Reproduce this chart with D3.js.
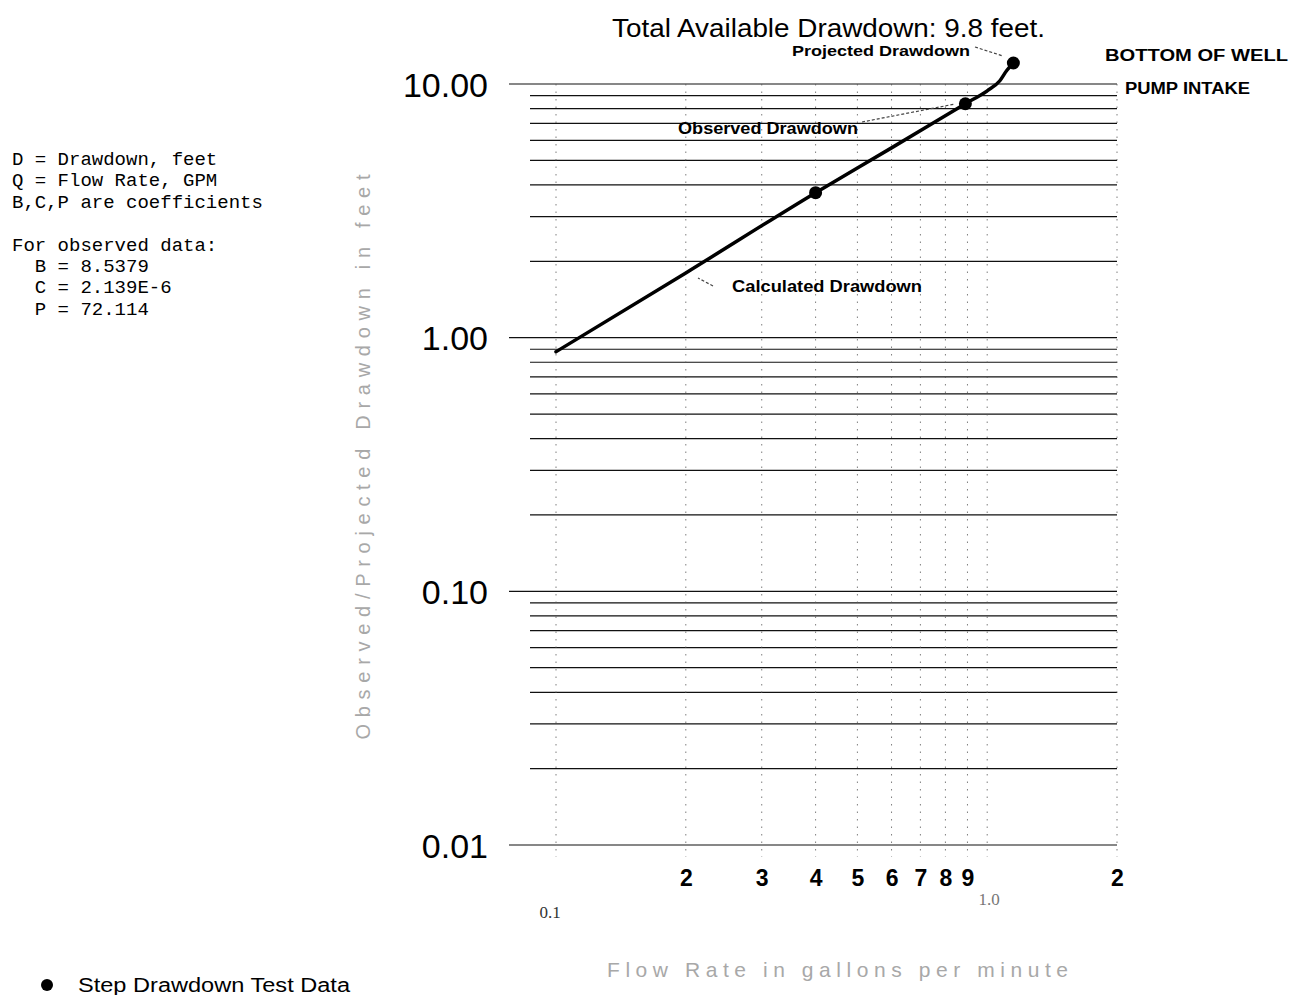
<!DOCTYPE html>
<html>
<head>
<meta charset="utf-8">
<script src="https://cdn.jsdelivr.net/npm/d3@7"></script>
<style>
  html, body { margin: 0; padding: 0; background: #fff; }
  svg { display: block; }
</style>
</head>
<body>
<svg id="chart" width="1292" height="995"></svg>
<script>
// ---- Data ----
const yTickValues = [0.01, 0.1, 1, 10];
const yTickLabels = ["0.01", "0.10", "1.00", "10.00"];
const xTickValues = [0.2, 0.3, 0.4, 0.5, 0.6, 0.7, 0.8, 0.9, 2.0];
const xTickLabels = ["2", "3", "4", "5", "6", "7", "8", "9", "2"];
const xDecadeValues = [0.1, 1.0];
const xDecadeLabels = ["0.1", "1.0"];

// Calculated drawdown curve (flow rate GPM, drawdown feet)
const calcQ = [0.1, 0.2, 0.4, 0.6, 0.89, 1.0, 1.07, 1.11, 1.15];
const calcD = [0.88, 1.8, 3.73, 5.6, 8.36, 9.4, 10.3, 11.3, 12.1];

// Step drawdown test data (observed) and projected point
const obsQ = [0.4, 0.89];
const obsD = [3.73, 8.36];
const projQ = [1.15];
const projD = [12.1];

const notes = [
  "D = Drawdown, feet",
  "Q = Flow Rate, GPM",
  "B,C,P are coefficients",
  "",
  "For observed data:",
  "  B = 8.5379",
  "  C = 2.139E-6",
  "  P = 72.114"
];

// ---- Drawing ----
const svg = d3.select("#chart");
const x = d3.scaleLog().domain([0.1, 2.0]).range([556, 1117]);
const y = d3.scaleLog().domain([0.01, 10]).range([845, 84]);

const plotLeft = 530, plotRight = 1117, majorLeft = 509;

// Horizontal grid lines (1..9 in each decade)
const hLines = [];
[0.01, 0.1, 1].forEach(d => { for (let k = 1; k <= 9; k++) hLines.push({ v: d * k, major: k === 1 }); });
hLines.push({ v: 10, major: true });

svg.append("g").selectAll("line").data(hLines).join("line")
  .attr("x1", d => d.major ? majorLeft : plotLeft)
  .attr("x2", plotRight)
  .attr("y1", d => y(d.v)).attr("y2", d => y(d.v))
  .attr("stroke", "#111").attr("stroke-width", 1.2);

// Vertical dotted grid lines
const vLines = [0.1, 0.2, 0.3, 0.4, 0.5, 0.6, 0.7, 0.8, 0.9, 1.0, 2.0];
svg.append("g").selectAll("line").data(vLines).join("line")
  .attr("x1", d => x(d)).attr("x2", d => x(d))
  .attr("y1", y(10)).attr("y2", y(0.01) + 12)
  .attr("stroke", "#555").attr("stroke-width", 1)
  .attr("stroke-dasharray", "1.5,6").attr("opacity", 0.75);

// Y axis labels
const yAxis = d3.axisLeft(y).tickValues(yTickValues)
  .tickFormat((d, i) => yTickLabels[i]).tickSize(0).tickPadding(0);
const gy = svg.append("g").attr("transform", "translate(488,0)").call(yAxis);
gy.select(".domain").remove();
gy.selectAll("text").attr("font-family", "Liberation Sans, Arial, sans-serif")
  .attr("font-size", 34).attr("fill", "#000").attr("dy", "0.36em");

// X axis labels (bold digits)
const xAxis = d3.axisBottom(x).tickValues(xTickValues)
  .tickFormat((d, i) => xTickLabels[i]).tickSize(0).tickPadding(0);
const gx = svg.append("g").attr("transform", "translate(0,870)").call(xAxis);
gx.select(".domain").remove();
gx.selectAll("text").attr("font-family", "Liberation Sans, Arial, sans-serif")
  .attr("font-size", 23).attr("font-weight", "bold").attr("fill", "#000").attr("dy", "0.71em");

// Decade labels (serif)
svg.append("g").selectAll("text").data(xDecadeValues).join("text")
  .attr("x", (d, i) => x(d) + (i === 0 ? -6 : 2))
  .attr("y", (d, i) => i === 0 ? 918 : 905)
  .attr("text-anchor", "middle")
  .attr("font-family", "Liberation Serif, Times New Roman, serif")
  .attr("font-size", 17)
  .attr("fill", (d, i) => i === 0 ? "#333" : "#777")
  .text((d, i) => xDecadeLabels[i]);

// Calculated drawdown curve
const calcPts = calcQ.map((q, i) => [q, calcD[i]]);
svg.append("path").datum(calcPts)
  .attr("d", d3.line().x(d => x(d[0])).y(d => y(d[1])).curve(d3.curveMonotoneX))
  .attr("fill", "none").attr("stroke", "#000").attr("stroke-width", 3.5)
  .attr("stroke-linecap", "round");

// Points
const pts = obsQ.map((q, i) => [q, obsD[i]]).concat(projQ.map((q, i) => [q, projD[i]]));
svg.append("g").selectAll("circle").data(pts).join("circle")
  .attr("cx", d => x(d[0])).attr("cy", d => y(d[1])).attr("r", 6.5).attr("fill", "#000");

// Leader lines (dashed)
const leaders = [
  [975, 47, 1003, 56],
  [862, 122, 955, 104],
  [713, 286, 698, 278]
];
svg.append("g").selectAll("line").data(leaders).join("line")
  .attr("x1", d => d[0]).attr("y1", d => d[1]).attr("x2", d => d[2]).attr("y2", d => d[3])
  .attr("stroke", "#444").attr("stroke-width", 1.2).attr("stroke-dasharray", "3,2");

// Annotation text
const ann = [
  { t: "Projected Drawdown", x: 792, y: 56, w: 178, fs: 15 },
  { t: "Observed Drawdown", x: 678, y: 134, w: 180, fs: 16 },
  { t: "Calculated Drawdown", x: 732, y: 292, w: 190, fs: 16 },
  { t: "BOTTOM OF WELL", x: 1105, y: 61, w: 183, fs: 16 },
  { t: "PUMP INTAKE", x: 1125, y: 94, w: 125, fs: 16 }
];
svg.append("g").selectAll("text").data(ann).join("text")
  .attr("x", d => d.x).attr("y", d => d.y)
  .attr("font-family", "Liberation Sans, Arial, sans-serif")
  .attr("font-size", d => d.fs).attr("font-weight", "bold").attr("fill", "#000")
  .attr("textLength", d => d.w).attr("lengthAdjust", "spacingAndGlyphs")
  .text(d => d.t);

// Title
svg.append("text").attr("x", 612).attr("y", 37)
  .attr("font-family", "Liberation Sans, Arial, sans-serif").attr("font-size", 25)
  .attr("textLength", 433).attr("lengthAdjust", "spacingAndGlyphs")
  .attr("fill", "#000")
  .text("Total Available Drawdown: 9.8 feet.");

// Axis titles (light gray)
svg.append("text")
  .attr("transform", "translate(370,457) rotate(-90)")
  .attr("text-anchor", "middle")
  .attr("font-family", "Liberation Sans, Arial, sans-serif").attr("font-size", 20)
  .attr("textLength", 565).attr("lengthAdjust", "spacing")
  .attr("fill", "#a8a8a8")
  .text("Observed/Projected Drawdown in feet");

svg.append("text").attr("x", 607).attr("y", 977)
  .attr("font-family", "Liberation Sans, Arial, sans-serif").attr("font-size", 21)
  .attr("textLength", 461).attr("lengthAdjust", "spacing")
  .attr("fill", "#a8a8a8")
  .text("Flow Rate in gallons per minute");

// Notes block (monospace)
svg.append("g").selectAll("text").data(notes).join("text")
  .attr("x", 12).attr("y", (d, i) => 165 + i * 21.4)
  .attr("font-family", "Liberation Mono, Courier New, monospace")
  .attr("font-size", 19).attr("fill", "#000")
  .attr("xml:space", "preserve").style("white-space", "pre")
  .text(d => d);

// Legend
svg.append("circle").attr("cx", 47).attr("cy", 985).attr("r", 6).attr("fill", "#000");
svg.append("text").attr("x", 78).attr("y", 992)
  .attr("font-family", "Liberation Sans, Arial, sans-serif").attr("font-size", 20)
  .attr("textLength", 272).attr("lengthAdjust", "spacingAndGlyphs")
  .attr("fill", "#000")
  .text("Step Drawdown Test Data");
</script>
</body>
</html>
